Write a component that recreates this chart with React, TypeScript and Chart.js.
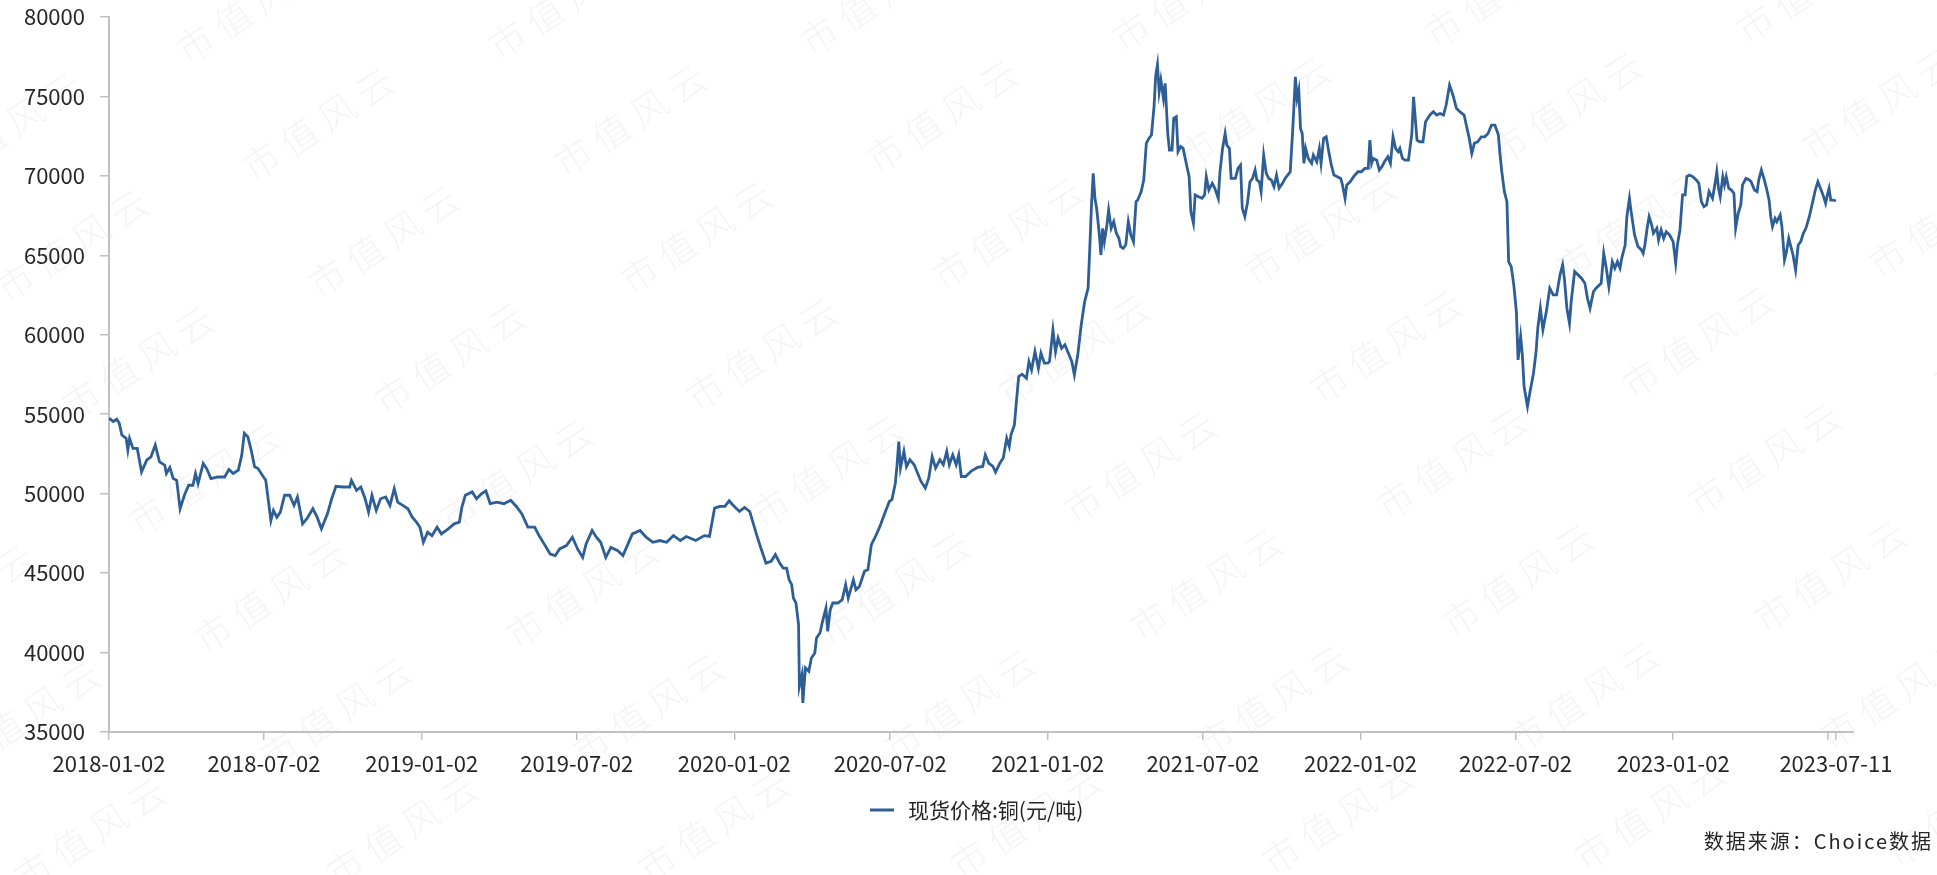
import React, { useEffect, useRef } from "react";
import { Chart, registerables } from "chart.js";

Chart.register(...registerables);

// Days counted from BASE_DATE (2018-01-02) for each sampled trading day
const BASE_DATE = "2018-01-02";
const AXIS_END_DATE = "2023-07-31";

const dayOffsets: number[] = [
  0, 5, 9, 12, 15, 20, 22, 24, 28, 33, 38, 44, 49, 54, 59, 65, 67, 71, 75, 79,
  83, 88, 93, 98, 101, 104, 110, 114, 119, 127, 135, 140, 145, 151, 155, 158, 162, 166, 170, 174,
  179, 183, 186, 189, 192, 196, 200, 205, 211, 216, 220, 226, 231, 238, 243, 248, 255, 260, 265, 273,
  281, 283, 289, 294, 299, 303, 307, 312, 317, 323, 328, 333, 337, 343, 349, 354, 359, 363, 367, 372,
  377, 383, 388, 396, 403, 409, 412, 416, 424, 429, 435, 440, 445, 453, 461, 469, 476, 482, 489, 497,
  502, 508, 515, 521, 526, 534, 541, 547, 553, 557, 564, 569, 574, 580, 586, 594, 600, 605, 611, 620,
  627, 635, 643, 651, 659, 667, 674, 685, 695,
  701, 707, 713, 719, 724, 728, 736, 742, 748, 756, 761, 767, 773, 778, 783, 787, 791, 794, 797, 799,
  802, 805, 806, 809, 810, 813, 817, 820, 824, 826, 830, 833, 837, 839, 842, 845, 851, 856, 860, 863,
  869, 872, 876, 882, 886, 890, 894, 900, 905, 911, 914, 918, 920, 922, 924, 928, 931, 935, 940, 944,
  948, 953, 957, 961, 965, 970, 974, 978, 981, 985, 989, 992, 995, 1000, 1007, 1014, 1020, 1023, 1027, 1032,
  1035, 1040, 1044, 1048, 1051, 1053, 1057, 1059, 1062, 1066, 1071, 1074, 1077, 1081, 1085, 1088, 1092, 1096,
  1098, 1102, 1105, 1108, 1112, 1116, 1120, 1124, 1127, 1131, 1135, 1139, 1143, 1145, 1147, 1149, 1151, 1153, 1156, 1158,
  1160, 1162, 1165, 1167, 1170, 1173, 1176, 1179, 1181, 1184, 1187, 1190, 1193, 1196, 1199, 1201, 1205, 1208, 1211, 1214,
  1217, 1220, 1222, 1224, 1226, 1228, 1231, 1233, 1236, 1238, 1241, 1243, 1246, 1248, 1251, 1254, 1258, 1261, 1263, 1266,
  1268, 1272, 1276, 1279, 1281, 1284, 1288, 1291, 1295, 1297, 1300, 1303, 1305, 1308, 1310, 1315, 1318, 1321, 1323, 1326,
  1329, 1332, 1335, 1338, 1340, 1343, 1345, 1348, 1351, 1354, 1357, 1360, 1363, 1366, 1370, 1373, 1376, 1379, 1382, 1384,
  1385, 1387, 1389, 1391, 1393, 1395, 1397, 1400, 1404, 1406, 1410, 1413, 1415, 1418, 1421, 1424, 1427, 1430, 1434, 1438,
  1440, 1443, 1445, 1449, 1453, 1458, 1462, 1466, 1470, 1472, 1474, 1476, 1480, 1483, 1486, 1489, 1493, 1496, 1499, 1502,
  1505, 1507, 1510, 1513, 1517, 1521, 1523, 1525, 1527, 1530, 1534, 1537, 1542, 1546, 1550, 1554, 1558, 1561,
  1565, 1569, 1573, 1577, 1582, 1585, 1588, 1591, 1594, 1598, 1602, 1606, 1610, 1614, 1618, 1622, 1624, 1626, 1629, 1632,
  1634, 1637, 1640, 1643, 1645, 1648, 1650, 1652, 1656, 1659, 1663, 1666, 1668, 1671, 1674, 1678, 1682, 1686, 1690, 1694,
  1697, 1699, 1702, 1705, 1707, 1711, 1715, 1719, 1723, 1726, 1729, 1733, 1736, 1742, 1745, 1748, 1751, 1755, 1758, 1761,
  1764, 1766, 1770, 1772, 1775, 1777, 1781, 1785, 1789, 1791, 1793, 1796, 1798, 1801, 1803, 1807, 1809, 1812, 1815, 1818,
  1822, 1826, 1829, 1831, 1834, 1837, 1840, 1842, 1845, 1849, 1853, 1856, 1859, 1862, 1865, 1868, 1872, 1875, 1877, 1879,
  1881, 1884, 1886, 1888, 1891, 1894, 1897, 1899, 1902, 1905, 1907, 1911, 1915, 1917, 1921, 1924, 1926, 1929, 1932, 1935,
  1938, 1940, 1942, 1945, 1947, 1951, 1953, 1956, 1958, 1961, 1964, 1966, 1969, 1972, 1975, 1978, 1981, 1985, 1989, 1992,
  1995, 1998, 2001, 2004, 2006, 2008, 2010, 2013, 2016,
];

// 现货价格:铜 (元/吨)
const prices: number[] = [
  54750, 54540, 54680, 54430, 53690, 53480, 52740, 53480, 52850, 52850, 51370, 52110, 52320, 53060, 52000, 51800, 51270, 51650, 50950, 50840,
  49050, 49900, 50530, 50530, 51270, 50630, 51900, 51580, 50950, 51050, 51050, 51520, 51270, 51480, 52430, 53800, 53590, 52740, 51690, 51580,
  51160, 50840, 49580, 48310, 48940, 48520, 48840, 49900, 49900, 49260, 49790, 48100, 48420, 49050, 48520, 47790, 48730, 49680, 50460, 50420,
  50420, 50840, 50210, 50420, 49680, 48840, 49900, 48940, 49680, 49790, 49260, 50320, 49470, 49260, 49050, 48520, 48210, 47890, 46940, 47570,
  47360, 47890, 47470, 47790, 48100, 48210, 49160, 49900, 50110, 49680, 50000, 50170, 49370, 49470, 49370, 49580, 49160, 48730, 47890, 47890,
  47360, 46840, 46200, 46100, 46520, 46730, 47260, 46520, 45990, 46840, 47680, 47260, 46940, 45990, 46620, 46410, 46100, 46730, 47470, 47680,
  47260, 46940, 47050, 46940, 47360, 47050, 47300, 47050, 47360,
  47310, 49090, 49200, 49200, 49550, 49300, 48880, 49130, 48880, 47420, 46580, 45630, 45740, 46160, 45630, 45320, 45320, 44580, 44270, 43430,
  43120, 41760, 37880, 38610, 36830, 39030, 38820, 39660, 39970, 40920, 41230, 41960, 42800, 41340, 42700, 43120, 43120, 43330, 44270, 43430,
  44580, 43950, 44160, 45110, 45220, 46790, 47210, 47940, 48670, 49510, 49620, 50660, 51820, 53280, 51610, 52660, 51710, 52130, 51820, 51290,
  50770, 50350, 50980, 52340, 51610, 52130, 51820, 52660, 51820, 52440, 51820, 52440, 51080, 51080, 51440, 51650, 51710, 52440, 51920, 51710,
  51350, 51920, 52240, 53490, 52970, 53700, 54330, 55590, 57370, 57520, 57270, 58310, 57790, 58940, 57890, 58840, 58210, 58210,
  58320, 60310, 58940, 59780, 59150, 59370, 58840, 58320, 57480, 58740, 60620, 62090, 62930, 65440, 68170, 70160, 68590, 67960, 66390, 65020,
  66700, 65860, 66910, 67850, 66700, 67120, 66390, 66070, 65550, 65440, 65650, 67120, 66280, 65860, 68380, 68480, 69010, 69740, 72050, 72360,
  72570, 74350, 76340, 77010, 75290, 76030, 74870, 75820, 72670, 71630, 71630, 73620, 73720, 71520, 71840, 71730, 70680, 69950, 67750, 67020,
  68800, 68690, 68590, 68800, 69950, 69110, 69530, 69220, 68590, 70260, 71730, 72670, 71940, 71730, 69840, 69840, 70470, 70680, 67960, 67440,
  68270, 69630, 69840, 70370, 69740, 69630, 69010, 71310, 70160, 69840, 69740, 69320, 70050, 69220, 69530, 69840, 70050, 70260, 72990, 75080,
  76240, 74870, 75400, 72990, 72670, 70790, 71730, 71100, 70790, 71310, 70890, 71730, 70790, 72360, 72460, 71520, 70680, 70050, 69950, 69840,
  69430, 68590, 69430, 69630, 69950, 70260, 70260, 70470, 70470, 72250, 70790, 71100, 70990, 70370, 70580, 70890, 71210, 70790, 72460, 71730,
  71520, 71730, 71100, 70990, 70990, 72670, 74980, 73620, 72250, 72150, 72150, 73410, 73830, 74040, 73830, 73930, 73830, 74460,
  75710, 75080, 74250, 74040, 73830, 73090, 72360, 71420, 72050, 72150, 72460, 72460, 72670, 73200, 73200, 72570, 71310, 70260, 69010, 68380,
  64600, 64290, 63140, 61460, 58420, 59890, 58740, 56740, 55490, 56430, 57580, 58940, 60410, 61670, 60310, 61460, 62930, 62510, 62510, 63770,
  64400, 63560, 61670, 60730, 62090, 63980, 63770, 63560, 63240, 62300, 61670, 62720, 62930, 63240, 65130, 64190, 63030, 64600, 64190, 64600,
  64190, 64810, 65650, 67430, 68590, 67750, 66280, 65550, 65340, 65130, 65650, 66810, 67430, 66910, 66390, 66700, 65970, 66600, 66070, 66490,
  66280, 65860, 64500, 65650, 66600, 68800, 68800, 69950, 70050, 69950, 69740, 69530, 68380, 68060, 68170, 69010, 68590, 69530, 70260, 69220,
  68690, 69950, 69430, 69950, 69220, 69110, 68900, 66700, 67640, 68170, 69430, 69840, 69740, 69630, 69110, 69010, 69740, 70370, 69840, 69220,
  68480, 67430, 66810, 67330, 67120, 67540, 66810, 64710, 65130, 66070, 65440, 65020, 64080, 65650, 65860, 66390, 66700, 67430, 68380, 69110,
  69630, 69220, 68800, 68270, 68800, 69220, 68480, 68480, 68420,
];

const tickDates: string[] = [
  "2018-01-02", "2018-07-02", "2019-01-02", "2019-07-02", "2020-01-02", "2020-07-02",
  "2021-01-02", "2021-07-02", "2022-01-02", "2022-07-02", "2023-01-02", "2023-07-02", "2023-07-11",
];
const tickLabels: string[] = [
  "2018-01-02", "2018-07-02", "2019-01-02", "2019-07-02", "2020-01-02", "2020-07-02",
  "2021-01-02", "2021-07-02", "2022-01-02", "2022-07-02", "2023-01-02", "", "2023-07-11",
];
const yTickValues: number[] = [35000, 40000, 45000, 50000, 55000, 60000, 65000, 70000, 75000, 80000];

const seriesName = "现货价格:铜(元/吨)";
const sourceNote = "数据来源：Choice数据";
const watermarkText = "市值风云";

const LINE_COLOR = "#2d5e96";
const AXIS_COLOR = "#c0c0c0";
const TEXT_COLOR = "#262626";
const FONT_FAMILY = '"Microsoft YaHei", "Noto Sans CJK SC", "Noto Sans", sans-serif';

function daysSinceBase(d: string): number {
  return Math.round((Date.parse(d + "T00:00:00Z") - Date.parse(BASE_DATE + "T00:00:00Z")) / 86400000);
}

const tickDays = tickDates.map(daysSinceBase);

const watermarkPlugin = {
  id: "watermark",
  beforeDraw(chart: any) {
    const ctx = chart.ctx as CanvasRenderingContext2D;
    ctx.save();
    ctx.font = `300 37px ${FONT_FAMILY}`;
    ctx.fillStyle = "rgba(0,0,0,0.045)";
    ctx.textAlign = "center";
    ctx.textBaseline = "middle";
    (ctx as any).letterSpacing = "8px";
    for (let i = -4; i <= 8; i++) {
      for (let j = -2; j <= 9; j++) {
        const cx = 633 + i * 312 + j * 66;
        const cy = 118 - i * 4 + j * 117;
        if (cx < -200 || cx > 2150 || cy < -120 || cy > 1000) continue;
        ctx.save();
        ctx.translate(cx, cy);
        ctx.rotate((-33 * Math.PI) / 180);
        ctx.fillText(watermarkText, 0, 0);
        ctx.restore();
      }
    }
    ctx.restore();
  },
};

const annotationsPlugin = {
  id: "legendAndSource",
  afterDraw(chart: any) {
    const ctx = chart.ctx as CanvasRenderingContext2D;
    ctx.save();
    // legend
    ctx.strokeStyle = LINE_COLOR;
    ctx.lineWidth = 3;
    ctx.beginPath();
    ctx.moveTo(870, 810);
    ctx.lineTo(894, 810);
    ctx.stroke();
    ctx.fillStyle = TEXT_COLOR;
    ctx.font = `21px ${FONT_FAMILY}`;
    ctx.textAlign = "left";
    ctx.textBaseline = "middle";
    ctx.fillText(seriesName, 908, 810);
    // source note
    ctx.font = `20px ${FONT_FAMILY}`;
    (ctx as any).letterSpacing = "2px";
    ctx.textAlign = "right";
    ctx.fillText(sourceNote, 1933, 841);
    ctx.restore();
  },
};

export default function App() {
  const canvasRef = useRef<HTMLCanvasElement | null>(null);

  useEffect(() => {
    if (!canvasRef.current) return;
    const points = dayOffsets.map((d, i) => ({ x: d, y: prices[i] }));
    const chart = new Chart(canvasRef.current, {
      type: "line",
      data: {
        datasets: [
          {
            label: seriesName,
            data: points,
            borderColor: LINE_COLOR,
            backgroundColor: LINE_COLOR,
            borderWidth: 2.8,
            pointRadius: 0,
            pointHoverRadius: 0,
            tension: 0,
            fill: false,
          },
        ],
      },
      options: {
        animation: false,
        responsive: false,
        maintainAspectRatio: false,
        events: [],
        layout: { padding: { left: 0, top: 17, right: 84, bottom: 0 } },
        plugins: {
          legend: { display: false },
          tooltip: { enabled: false },
          title: { display: false },
        },
        scales: {
          x: {
            type: "linear",
            min: 0,
            max: daysSinceBase(AXIS_END_DATE),
            afterBuildTicks: (scale: any) => {
              scale.ticks = tickDays.map((v) => ({ value: v }));
            },
            afterFit: (scale: any) => {
              scale.height = 143;
              scale.paddingLeft = 0;
              scale.paddingRight = 0;
            },
            ticks: {
              autoSkip: false,
              maxRotation: 0,
              minRotation: 0,
              padding: 10,
              color: TEXT_COLOR,
              font: { family: FONT_FAMILY, size: 22 },
              callback: (value: any) => {
                const idx = tickDays.indexOf(Number(value));
                return idx >= 0 ? tickLabels[idx] : "";
              },
            },
            grid: {
              display: true,
              drawOnChartArea: false,
              drawTicks: true,
              tickLength: 8,
              color: AXIS_COLOR,
              lineWidth: 1.5,
            },
            border: { display: true, color: AXIS_COLOR, width: 2 },
          },
          y: {
            type: "linear",
            min: 35000,
            max: 80000,
            afterBuildTicks: (scale: any) => {
              scale.ticks = yTickValues.map((v) => ({ value: v }));
            },
            afterFit: (scale: any) => {
              scale.width = 109;
              scale.paddingTop = 0;
              scale.paddingBottom = 0;
            },
            ticks: {
              padding: 15,
              color: TEXT_COLOR,
              font: { family: FONT_FAMILY, size: 22 },
              callback: (value: any) => String(value),
            },
            grid: {
              display: true,
              drawOnChartArea: false,
              drawTicks: true,
              tickLength: 9,
              color: AXIS_COLOR,
              lineWidth: 1.5,
            },
            border: { display: true, color: AXIS_COLOR, width: 2 },
          },
        },
      },
      plugins: [watermarkPlugin, annotationsPlugin],
    });
    return () => chart.destroy();
  }, []);

  return (
    <div style={{ position: "fixed", left: 0, top: 0, width: 1937, height: 875, background: "#ffffff" }}>
      <canvas ref={canvasRef} width={1937} height={875} style={{ width: 1937, height: 875, display: "block" }} />
    </div>
  );
}
